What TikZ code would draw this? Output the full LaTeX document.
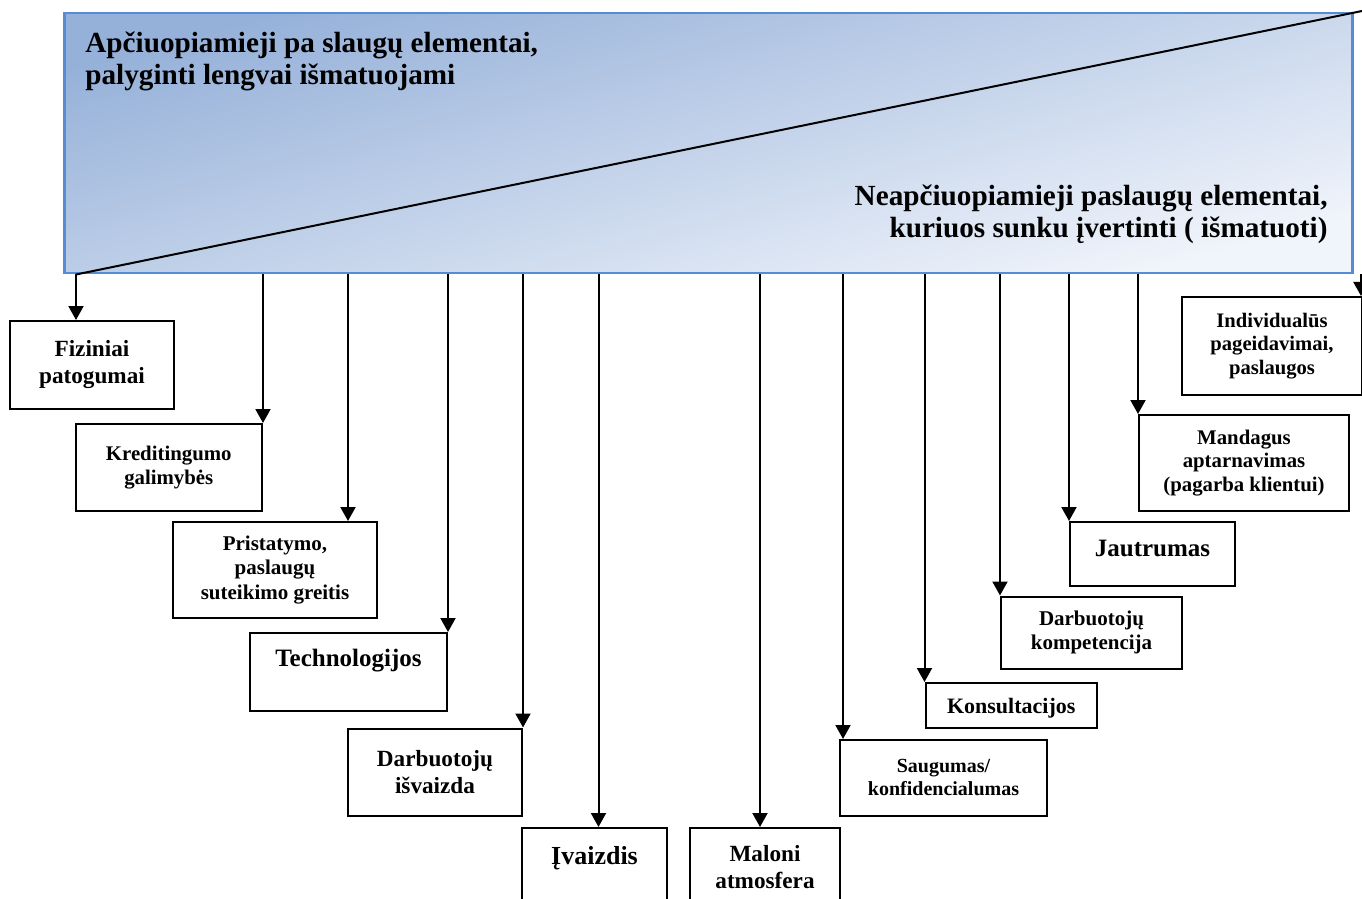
\documentclass[tikz,border=0pt]{standalone}
\usepackage{fontspec}
\setmainfont{Liberation Serif}
\usetikzlibrary{arrows.meta}
\definecolor{frameblue}{RGB}{86,140,212}
\definecolor{shadedark}{RGB}{150,177,217}
\definecolor{shadelight}{RGB}{240,244,251}
\newcommand{\boxfont}[2]{\fontsize{#1}{#2}\selectfont\bfseries}

\begin{document}
\begin{tikzpicture}[x=0.5pt, y=-0.5pt]
  \tikzstyle{box}=[rectangle, draw=black, line width=1pt, inner sep=2pt, align=center, anchor=north west]
  \tikzstyle{arr}=[-{Triangle[length=7pt, width=7.5pt]}, line width=1pt]
  \useasboundingbox (0,0) rectangle (1362,899);
  % shaded band with the two headings
  \node[draw=frameblue, line width=1.25pt, top color=shadedark, bottom color=shadelight, shading angle=15, minimum width=644pt, minimum height=130pt, anchor=north west] (TOP) at (63,12) {};
  \node[anchor=north west, align=left, inner sep=0pt, font=\boxfont{14.6}{15.9}] (TL) at (85,32) {Apčiuopiamieji pa slaugų elementai,\\ palyginti lengvai išmatuojami};
  \node[anchor=north east, align=right, inner sep=0pt, font=\boxfont{14.6}{15.9}] (TR) at (1328,185) {Neapčiuopiamieji paslaugų elementai,\\ kuriuos sunku įvertinti ( išmatuoti)};
  % elements
  \node[box, font=\boxfont{11.6}{13.4}, minimum width=82pt, minimum height=43.75pt] (FP) at (9,320) {Fiziniai\\ patogumai};
  \node[box, font=\boxfont{10.4}{12.4}, minimum width=93.25pt, minimum height=43.5pt] (KG) at (74.5,423) {Kreditingumo\\ galimybės};
  \node[box, font=\boxfont{10.5}{12.05}, minimum width=102pt, minimum height=48pt] (PG) at (172,521) {Pristatymo,\\ paslaugų\\ suteikimo greitis};
  \node[box, font=\boxfont{12.5}{14.4}, minimum width=98.5pt, minimum height=38.75pt, text height=9pt, text depth=14.25pt] (T) at (249,632) {Technologijos};
  \node[box, font=\boxfont{11.6}{13.4}, minimum width=87pt, minimum height=43.6pt] (DI) at (347,727.5) {Darbuotojų\\ išvaizda};
  \node[box, font=\boxfont{13}{15}, minimum width=72.5pt, minimum height=39pt, text height=9pt, text depth=12pt] (I) at (521,827) {Įvaizdis};
  \node[box, font=\boxfont{11.6}{13.35}, minimum width=75pt, minimum height=39pt] (MA) at (689,827) {Maloni\\ atmosfera};
  \node[box, font=\boxfont{10}{11.5}, minimum width=103.5pt, minimum height=37.85pt] (SK) at (839,739) {Saugumas/\\ konfidencialumas};
  \node[box, font=\boxfont{11}{12.6}, minimum width=85.75pt, minimum height=22.5pt, text height=9pt, text depth=1pt] (K) at (924.5,682) {Konsultacijos};
  \node[box, font=\boxfont{10.5}{12.05}, minimum width=90.5pt, minimum height=36pt] (DK) at (1000,595.5) {Darbuotojų\\ kompetencija};
  \node[box, font=\boxfont{12.5}{14.4}, minimum width=82.5pt, minimum height=32pt, text height=9pt, text depth=6.4pt] (J) at (1069,521) {Jautrumas};
  \node[box, font=\boxfont{10.4}{11.95}, minimum width=105pt, minimum height=48pt] (MAP) at (1138,414) {Mandagus\\ aptarnavimas\\ (pagarba klientui)};
  \node[box, font=\boxfont{10.3}{11.9}, minimum width=90pt, minimum height=49pt] (IP) at (1181,296) {Individualūs\\ pageidavimai,\\ paslaugos};
  % diagonal split
  \coordinate (LB) at ([xshift=-8pt]FP.north |- TOP.south);
  \coordinate (RT) at (1362,11);
  \draw[line width=1pt] (LB) -- (RT);
  % arrows
  \draw[arr] (LB) -- ([xshift=-8pt]FP.north);
  \draw[arr] (KG.north east |- TOP.south) -- (KG.north east);
  \draw[arr] ([xshift=36.5pt]PG.north |- TOP.south) -- ([xshift=36.5pt]PG.north);
  \draw[arr] (T.north east |- TOP.south) -- (T.north east);
  \draw[arr] (DI.north east |- TOP.south) -- (DI.north east);
  \draw[arr] ([xshift=2pt]I.north |- TOP.south) -- ([xshift=2pt]I.north);
  \draw[arr] ([xshift=-2.5pt]MA.north |- TOP.south) -- ([xshift=-2.5pt]MA.north);
  \draw[arr] ([xshift=2pt]SK.north west |- TOP.south) -- ([xshift=2pt]SK.north west);
  \draw[arr] (K.north west |- TOP.south) -- (K.north west);
  \draw[arr] (DK.north west |- TOP.south) -- (DK.north west);
  \draw[arr] (J.north west |- TOP.south) -- (J.north west);
  \draw[arr] (MAP.north west |- TOP.south) -- (MAP.north west);
  \draw[arr] ([xshift=-1pt]IP.north east |- TOP.south) -- ([xshift=-1pt]IP.north east);
\end{tikzpicture}
\end{document}
